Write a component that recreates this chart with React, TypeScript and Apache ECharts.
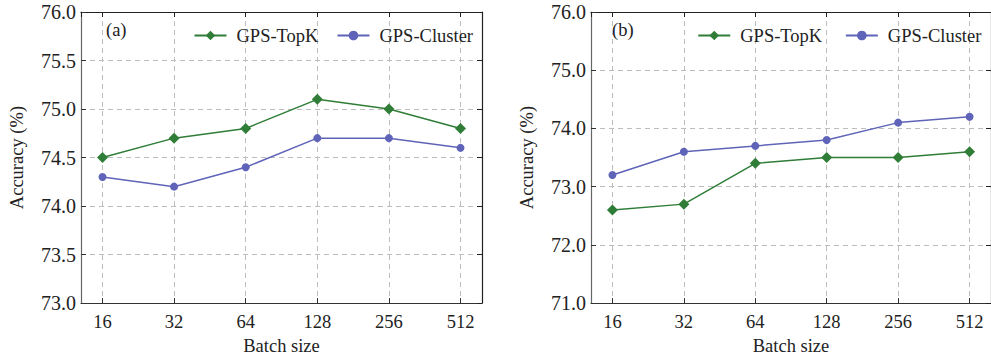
import React, { useEffect, useRef } from "react";
import * as echarts from "echarts";

const batchSizes = ["16", "32", "64", "128", "256", "512"];
const topkA = [74.5, 74.7, 74.8, 75.1, 75.0, 74.8];
const clusterA = [74.3, 74.2, 74.4, 74.7, 74.7, 74.6];
const topkB = [72.6, 72.7, 73.4, 73.5, 73.5, 73.6];
const clusterB = [73.2, 73.6, 73.7, 73.8, 74.1, 74.2];
const yRangeA = { min: 73, max: 76, interval: 0.5 };
const yRangeB = { min: 71, max: 76, interval: 1 };

const FONT = "Liberation Serif";
const GREEN = "#2f7d37";
const BLUE = "#5f64b9";

export default function App() {
  const ref = useRef<HTMLDivElement>(null);
  useEffect(() => {
    if (!ref.current) return;
    const chart = echarts.init(ref.current, null, { renderer: "svg" });
    const grids = [
      { left: 81, top: 12, width: 401, height: 293 },
      { left: 591, top: 12, width: 400, height: 293 },
    ];
    const xAxes: any[] = [];
    const yAxes: any[] = [];
    const ranges = [yRangeA, yRangeB];
    grids.forEach((g, i) => {
      const base = {
        type: "value",
        gridIndex: i,
        min: -0.3,
        max: 5.3,
        splitNumber: 5,
      };
      xAxes.push({
        ...base,
        position: "bottom",
        name: "Batch size",
        nameLocation: "middle",
        nameGap: 29,
        nameTextStyle: { fontFamily: FONT, fontSize: 18.5, color: "#222" },
        axisLine: { show: true, onZero: false, lineStyle: { color: "#333", width: 1.2 } },
        axisTick: { show: true, inside: true, length: 5, lineStyle: { color: "#333" } },
        axisLabel: {
          fontFamily: FONT,
          fontSize: 18.5,
          color: "#222",
          margin: 9,
          showMinLabel: false,
          showMaxLabel: false,
          formatter: (v: number) => {
            const k = Math.round(v);
            return Math.abs(v - k) < 1e-6 && k >= 0 && k < batchSizes.length ? batchSizes[k] : "";
          },
        },
        splitLine: { show: true, lineStyle: { color: "#bdbdbd", type: [5, 4], width: 1 } },
      });
      xAxes.push({
        ...base,
        position: "top",
        axisLine: { show: true, onZero: false, lineStyle: { color: "#222", width: 1.2 } },
        axisTick: { show: true, inside: true, length: 5, lineStyle: { color: "#222" } },
        axisLabel: { show: false },
        splitLine: { show: false },
      });
      const r = ranges[i];
      const ybase = { type: "value", gridIndex: i, min: r.min, max: r.max, interval: r.interval };
      yAxes.push({
        ...ybase,
        position: "left",
        name: "Accuracy (%)",
        nameLocation: "middle",
        nameGap: 55,
        nameTextStyle: { fontFamily: FONT, fontSize: 18.5, color: "#222" },
        axisLine: { show: true, onZero: false, lineStyle: { color: "#666", width: 1.2 } },
        axisTick: { show: true, inside: true, length: 5, lineStyle: { color: "#333" } },
        axisLabel: {
          fontFamily: FONT,
          fontSize: 20,
          color: "#222",
          margin: 5,
          formatter: (v: number) => v.toFixed(1),
        },
        splitLine: { show: true, lineStyle: { color: "#bdbdbd", type: [5, 4], width: 1 } },
      });
      yAxes.push({
        ...ybase,
        position: "right",
        axisLine: { show: true, onZero: false, lineStyle: { color: "#222", width: 1.2 } },
        axisTick: { show: true, inside: true, length: 5, lineStyle: { color: "#222" } },
        axisLabel: { show: false },
        splitLine: { show: false },
      });
    });

    const mk = (name: string, data: number[], idx: number, color: string, symbol: string, size: number) => ({
      type: "line",
      name,
      xAxisIndex: idx * 2,
      yAxisIndex: idx * 2,
      data: data.map((v, i) => [i, v]),
      symbol,
      symbolSize: size,
      showSymbol: true,
      itemStyle: { color },
      lineStyle: { color, width: 1.5 },
      z: 5,
    });

    const legendBase = {
      orient: "horizontal",
      itemWidth: 32,
      itemHeight: 12,
      itemGap: 18,
      textStyle: { fontFamily: FONT, fontSize: 18.5, color: "#222", padding: [0, 0, 0, 5] },
      top: 21,
    };

    chart.setOption({
      animation: false,
      backgroundColor: "#fff",
      grid: grids.map((g) => ({ ...g, containLabel: false })),
      xAxis: xAxes,
      yAxis: yAxes,
      legend: [
        {
          ...legendBase,
          right: 991 - 478,
          data: ["GPS-TopK", "GPS-Cluster"],
        },
        {
          ...legendBase,
          right: 0,
          data: ["GPS-TopK ", "GPS-Cluster "],
        },
      ],
      series: [
        mk("GPS-TopK", topkA, 0, GREEN, "diamond", 11),
        mk("GPS-Cluster", clusterA, 0, BLUE, "circle", 8),
        mk("GPS-TopK ", topkB, 1, GREEN, "diamond", 11),
        mk("GPS-Cluster ", clusterB, 1, BLUE, "circle", 8),
      ],
      graphic: [
        { type: "text", left: 106, top: 20, style: { text: "(a)", font: `18.5px "${FONT}"`, fill: "#222" } },
        { type: "text", left: 612, top: 20, style: { text: "(b)", font: `18.5px "${FONT}"`, fill: "#222" } },
      ],
    });
    return () => chart.dispose();
  }, []);
  return (
    <div
      ref={ref}
      style={{ position: "fixed", left: 0, top: 0, width: 991, height: 360, background: "#fff" }}
    />
  );
}
